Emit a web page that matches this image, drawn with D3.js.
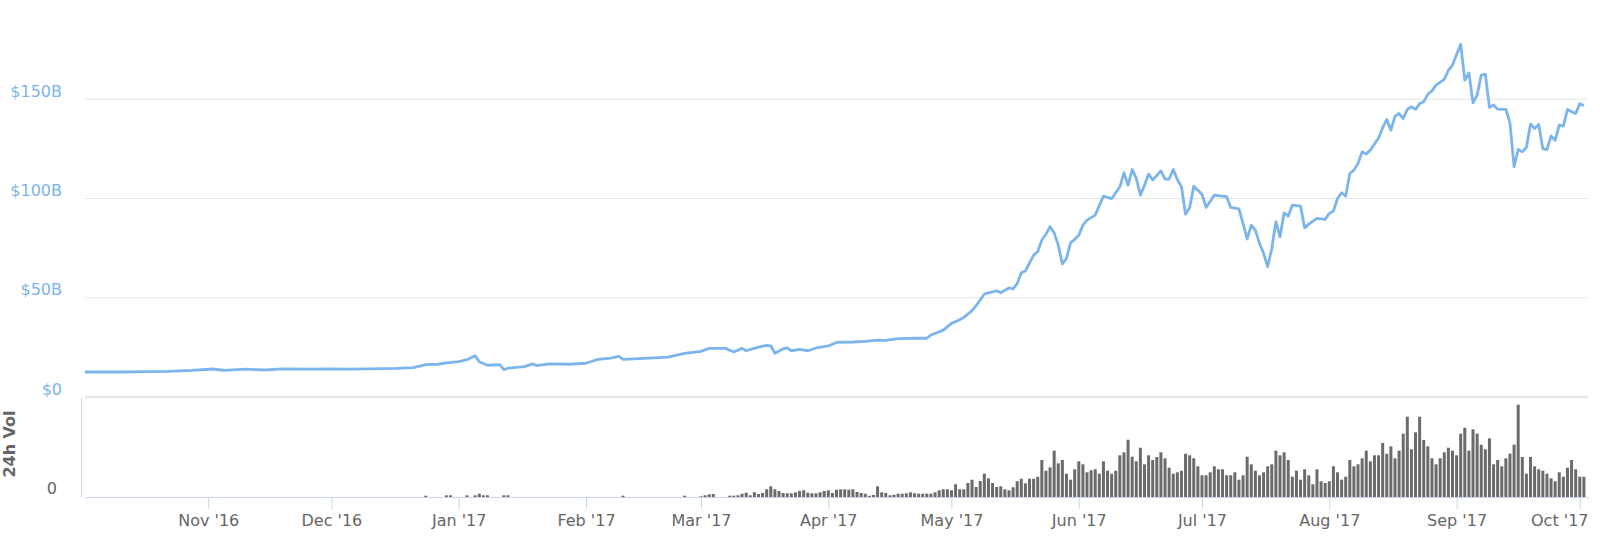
<!DOCTYPE html>
<html>
<head>
<meta charset="utf-8">
<script src="https://cdnjs.cloudflare.com/ajax/libs/d3/7.8.5/d3.min.js"></script>
<style>
    body { margin: 0; background: #fff; }
    svg { display: block; font-family: "DejaVu Sans", sans-serif; }
</style>
</head>
<body>
<div id="chart"></div>
<script>
// market cap in $B
var marketCap = [
    ["2016-10-02", 12.6], ["2016-10-11", 12.6], ["2016-10-22", 12.9], ["2016-10-28", 13.4],
    ["2016-11-02", 14.1], ["2016-11-05", 13.4], ["2016-11-10", 14.0], ["2016-11-15", 13.6],
    ["2016-11-19", 14.2], ["2016-11-27", 14.0], ["2016-12-01", 14.1], ["2016-12-05", 14.0],
    ["2016-12-10", 14.2], ["2016-12-17", 14.4], ["2016-12-21", 14.8], ["2016-12-24", 16.3],
    ["2016-12-27", 16.5], ["2016-12-29", 17.2], ["2017-01-01", 17.8], ["2017-01-03", 18.8],
    ["2017-01-05", 20.8], ["2017-01-06", 17.8], ["2017-01-08", 16.0], ["2017-01-11", 16.3],
    ["2017-01-12", 13.8], ["2017-01-13", 14.5], ["2017-01-17", 15.3], ["2017-01-19", 16.7],
    ["2017-01-20", 15.8], ["2017-01-23", 16.7], ["2017-01-28", 16.5], ["2017-02-01", 17.0],
    ["2017-02-04", 19.0], ["2017-02-07", 19.6], ["2017-02-09", 20.5], ["2017-02-10", 19.0],
    ["2017-02-14", 19.3], ["2017-02-21", 20.1], ["2017-02-25", 22.0], ["2017-03-01", 23.0],
    ["2017-03-03", 24.5], ["2017-03-07", 24.5], ["2017-03-09", 22.7], ["2017-03-11", 24.5],
    ["2017-03-12", 23.3], ["2017-03-15", 25.1], ["2017-03-17", 26.0], ["2017-03-18", 25.8],
    ["2017-03-19", 22.0], ["2017-03-21", 24.3], ["2017-03-22", 24.8], ["2017-03-23", 23.3],
    ["2017-03-25", 24.0], ["2017-03-27", 23.3], ["2017-03-29", 24.7], ["2017-04-01", 25.7],
    ["2017-04-03", 27.5], ["2017-04-07", 27.7], ["2017-04-10", 28.0], ["2017-04-13", 28.7],
    ["2017-04-15", 28.5], ["2017-04-18", 29.4], ["2017-04-23", 29.7], ["2017-04-25", 29.6],
    ["2017-04-26", 31.2], ["2017-04-27", 32.0], ["2017-04-29", 33.7], ["2017-05-01", 37.1],
    ["2017-05-03", 38.9], ["2017-05-04", 40.1], ["2017-05-06", 43.5], ["2017-05-07", 46.0],
    ["2017-05-09", 51.9], ["2017-05-10", 52.5], ["2017-05-12", 53.5], ["2017-05-13", 52.5],
    ["2017-05-15", 55.0], ["2017-05-16", 54.4], ["2017-05-17", 57.2], ["2017-05-18", 62.6],
    ["2017-05-19", 63.5], ["2017-05-21", 71.5], ["2017-05-22", 73.2], ["2017-05-23", 79.1],
    ["2017-05-24", 82.0], ["2017-05-25", 85.8], ["2017-05-26", 82.7], ["2017-05-27", 76.5],
    ["2017-05-28", 67.0], ["2017-05-29", 69.8], ["2017-05-30", 77.7], ["2017-05-31", 79.4],
    ["2017-06-01", 81.5], ["2017-06-02", 86.6], ["2017-06-03", 89.1], ["2017-06-05", 91.6],
    ["2017-06-07", 101.2], ["2017-06-09", 99.9], ["2017-06-11", 105.9], ["2017-06-12", 112.9],
    ["2017-06-13", 106.7], ["2017-06-14", 114.6], ["2017-06-15", 110.1], ["2017-06-16", 101.7],
    ["2017-06-17", 106.7], ["2017-06-18", 112.3], ["2017-06-19", 109.3], ["2017-06-21", 113.9],
    ["2017-06-22", 109.8], ["2017-06-23", 109.8], ["2017-06-24", 114.6], ["2017-06-25", 109.6],
    ["2017-06-26", 105.9], ["2017-06-27", 92.1], ["2017-06-28", 95.5], ["2017-06-29", 106.2],
    ["2017-07-01", 102.2], ["2017-07-02", 95.5], ["2017-07-04", 101.7], ["2017-07-06", 101.2],
    ["2017-07-07", 100.9], ["2017-07-08", 95.5], ["2017-07-10", 94.8], ["2017-07-11", 87.4],
    ["2017-07-12", 79.6], ["2017-07-13", 86.6], ["2017-07-14", 84.0], ["2017-07-15", 77.4],
    ["2017-07-16", 72.4], ["2017-07-17", 65.6], ["2017-07-18", 74.9], ["2017-07-19", 88.3],
    ["2017-07-20", 80.7], ["2017-07-21", 92.8], ["2017-07-22", 91.1], ["2017-07-23", 96.7],
    ["2017-07-25", 96.2], ["2017-07-26", 85.2], ["2017-07-27", 87.1], ["2017-07-29", 90.0],
    ["2017-07-31", 89.5], ["2017-08-01", 92.5], ["2017-08-02", 93.7], ["2017-08-03", 100.0],
    ["2017-08-04", 102.9], ["2017-08-05", 101.2], ["2017-08-06", 112.6], ["2017-08-07", 114.3],
    ["2017-08-08", 117.7], ["2017-08-09", 123.5], ["2017-08-10", 122.4], ["2017-08-11", 124.4],
    ["2017-08-13", 130.5], ["2017-08-14", 135.7], ["2017-08-15", 139.8], ["2017-08-16", 134.4],
    ["2017-08-17", 141.5], ["2017-08-18", 142.8], ["2017-08-19", 140.3], ["2017-08-20", 144.9],
    ["2017-08-21", 146.2], ["2017-08-22", 144.9], ["2017-08-23", 147.8], ["2017-08-24", 148.7],
    ["2017-08-25", 152.6], ["2017-08-26", 154.2], ["2017-08-27", 157.1], ["2017-08-29", 160.0],
    ["2017-08-30", 164.6], ["2017-08-31", 167.2], ["2017-09-02", 177.7], ["2017-09-03", 159.6],
    ["2017-09-04", 163.3], ["2017-09-05", 148.2], ["2017-09-06", 152.1], ["2017-09-07", 162.1],
    ["2017-09-08", 162.6], ["2017-09-09", 145.9], ["2017-09-10", 147.1], ["2017-09-11", 145.0],
    ["2017-09-13", 144.9], ["2017-09-14", 138.0], ["2017-09-15", 116.0], ["2017-09-16", 124.7],
    ["2017-09-17", 123.5], ["2017-09-18", 125.7], ["2017-09-19", 137.5], ["2017-09-20", 135.3],
    ["2017-09-21", 137.3], ["2017-09-22", 125.1], ["2017-09-23", 124.6], ["2017-09-24", 131.4],
    ["2017-09-25", 129.4], ["2017-09-26", 137.0], ["2017-09-27", 136.5], ["2017-09-28", 144.9],
    ["2017-09-29", 143.7], ["2017-09-30", 142.8], ["2017-10-01", 147.8], ["2017-10-02", 146.7]
];

// scattered 24h volume before March ($B)
var earlyVolume = [
    ["2016-12-24", 0.13], ["2016-12-29", 0.17], ["2016-12-30", 0.17], ["2017-01-03", 0.17],
    ["2017-01-05", 0.17], ["2017-01-06", 0.33], ["2017-01-07", 0.17], ["2017-01-08", 0.17],
    ["2017-01-12", 0.17], ["2017-01-13", 0.17], ["2017-02-10", 0.13], ["2017-02-25", 0.13]
];

// daily 24h volume ($B) from volumeStart on
var volumeStart = "2017-03-01";
var volume = [
    0.07, 0.17, 0.27, 0.3, 0, 0, 0, 0.13, 0.13, 0.17,
    0.33, 0.43, 0.17, 0.47, 0.3, 0.4, 0.77, 1.07, 0.77, 0.6,
    0.4, 0.37, 0.37, 0.47, 0.6, 0.67, 0.43, 0.37, 0.37, 0.47,
    0.6, 0.67, 0.4, 0.73, 0.77, 0.77, 0.73, 0.77, 0.5, 0.4,
    0.33, 0.13, 0.2, 1.07, 0.47, 0.4, 0.17, 0.23, 0.33, 0.33,
    0.37, 0.47, 0.37, 0.33, 0.33, 0.33, 0.33, 0.47, 0.67, 0.77,
    0.77, 0.67, 1.27, 0.77, 0.77, 1.4, 1.73, 1.0, 1.6, 2.33,
    1.87, 1.4, 1.0, 1.07, 0.77, 0.67, 0.97, 1.57, 1.83, 1.37,
    1.83, 1.83, 2.03, 3.7, 2.63, 2.97, 4.63, 3.37, 3.7, 2.33,
    1.73, 2.77, 3.57, 3.27, 2.47, 2.67, 2.77, 2.33, 3.57, 2.63,
    2.33, 2.63, 4.17, 4.47, 5.73, 4.03, 3.57, 4.93, 3.27, 4.17,
    3.7, 4.0, 4.47, 3.87, 2.93, 2.33, 2.47, 2.63, 4.33, 4.17,
    3.87, 3.07, 2.17, 2.17, 2.47, 3.07, 2.77, 2.77, 2.17, 2.17,
    2.47, 1.73, 2.17, 4.03, 3.27, 2.63, 2.17, 2.47, 3.07, 3.27,
    4.63, 4.17, 4.47, 3.7, 2.03, 2.63, 1.73, 2.77, 2.17, 1.27,
    2.77, 1.57, 1.4, 1.57, 3.07, 2.47, 1.73, 2.03, 3.7, 3.07,
    3.27, 3.87, 4.63, 3.57, 4.17, 4.17, 5.4, 4.33, 5.07, 3.87,
    4.63, 6.33, 8.03, 4.77, 6.47, 8.03, 5.7, 5.07, 3.87, 3.27,
    3.87, 4.47, 4.93, 4.63, 4.17, 6.33, 6.93, 4.63, 6.77, 6.33,
    5.23, 4.77, 5.87, 3.27, 3.7, 3.07, 3.87, 4.33, 5.23, 9.23,
    4.0, 2.33, 4.0, 3.07, 2.77, 2.63, 2.33, 1.87, 1.57, 2.47,
    2.03, 2.93, 3.7, 2.77, 2.03, 2.03
];

var priceTicks = [0, 50, 100, 150];
var monthTicks = ["2016-11-01", "2016-12-01", "2017-01-01", "2017-02-01", "2017-03-01", "2017-04-01",
    "2017-05-01", "2017-06-01", "2017-07-01", "2017-08-01", "2017-09-01", "2017-10-01"];

var width = 1600,
    height = 544;
var plot = {
    left: 85,
    right: 1588,
    priceBottom: 397,
    volTop: 397,
    volBottom: 497
};
var colors = {
    line: "#7cb5ec",
    bar: "#6b6b6b",
    grid: "#e6e6e6",
    axis: "#ccd6eb",
    text: "#666666"
};

var parse = d3.utcParse("%Y-%m-%d");

var x = d3.scaleUtc()
    .domain([parse("2016-10-02"), parse("2017-10-03")])
    .range([plot.left, plot.right]);
var yPrice = d3.scaleLinear()
    .domain([0, 200])
    .range([plot.priceBottom, 0]);
var yVol = d3.scaleLinear()
    .domain([0, 10])
    .range([plot.volBottom, plot.volTop]);

var priceData = marketCap.map(function (d) {
    return { date: parse(d[0]), value: d[1] };
});
var volumeData = earlyVolume.map(function (d) {
    return { date: parse(d[0]), value: d[1] };
}).concat(volume.map(function (v, i) {
    return { date: d3.utcDay.offset(parse(volumeStart), i), value: v };
}));

var svg = d3.select("#chart")
    .append("svg")
    .attr("width", width)
    .attr("height", height);

// grid lines of the price pane
svg.append("g")
    .attr("class", "grid")
    .selectAll("line")
    .data(priceTicks)
    .enter().append("line")
    .attr("x1", plot.left)
    .attr("x2", plot.right)
    .attr("y1", function (d) { return yPrice(d); })
    .attr("y2", function (d) { return yPrice(d); })
    .style("stroke", colors.grid)
    .style("stroke-width", function (d) { return d === 0 ? 2.5 : 1; });

// volume columns
svg.append("g")
    .attr("class", "volume")
    .selectAll("rect")
    .data(volumeData.filter(function (d) { return d.value > 0; }))
    .enter().append("rect")
    .attr("x", function (d) { return x(d.date) - 1.5; })
    .attr("width", 3)
    .attr("y", function (d) { return yVol(d.value); })
    .attr("height", function (d) { return yVol(0) - yVol(d.value); })
    .style("fill", colors.bar);

// market cap line
var line = d3.line()
    .x(function (d) { return x(d.date); })
    .y(function (d) { return yPrice(d.value); });

svg.append("path")
    .datum(priceData)
    .attr("d", line)
    .style("fill", "none")
    .style("stroke", colors.line)
    .style("stroke-width", 2.8)
    .style("stroke-linejoin", "round");

// price labels
var priceAxis = svg.append("g")
    .attr("transform", "translate(" + plot.left + ",0)")
    .call(d3.axisLeft(yPrice)
        .tickValues(priceTicks)
        .tickSize(0)
        .tickPadding(23)
        .tickFormat(function (d) { return d === 0 ? "$0" : "$" + d + "B"; }));
priceAxis.select(".domain").remove();
priceAxis.selectAll("text")
    .attr("dy", -3)
    .style("font-size", "16px")
    .style("font-family", "DejaVu Sans")
    .style("fill", colors.line);

// volume axis
var volAxis = svg.append("g")
    .attr("transform", "translate(81,0)")
    .call(d3.axisLeft(yVol)
        .tickValues([0])
        .tickSize(0)
        .tickSizeOuter(0)
        .tickPadding(24));
volAxis.select(".domain").style("stroke", colors.axis);
volAxis.selectAll("text")
    .attr("dy", -4)
    .style("font-size", "16px")
    .style("font-family", "DejaVu Sans")
    .style("fill", colors.text);

svg.append("text")
    .attr("transform", "translate(15," + ((plot.volTop + plot.volBottom) / 2 - 3) + ") rotate(-90)")
    .attr("text-anchor", "middle")
    .style("font-size", "16px")
    .style("font-weight", "bold")
    .style("fill", colors.text)
    .text("24h Vol");

// time axis under the volume pane
var xAxis = svg.append("g")
    .attr("transform", "translate(0," + plot.volBottom + ")")
    .call(d3.axisBottom(x)
        .tickValues(monthTicks.map(parse))
        .tickSize(12)
        .tickSizeOuter(0)
        .tickPadding(6)
        .tickFormat(d3.utcFormat("%b '%y")));
xAxis.select(".domain").style("stroke", colors.axis);
xAxis.selectAll(".tick line").style("stroke", colors.axis);
xAxis.selectAll("text")
    .style("font-size", "16px")
    .style("font-family", "DejaVu Sans")
    .style("fill", colors.text)
    .each(function (d) {
        // keep the last label inside the plot
        var w = this.getComputedTextLength();
        var over = x(d) + w / 2 - plot.right;
        if (over > 0) d3.select(this).attr("x", -over);
    });
</script>
</body>
</html>
